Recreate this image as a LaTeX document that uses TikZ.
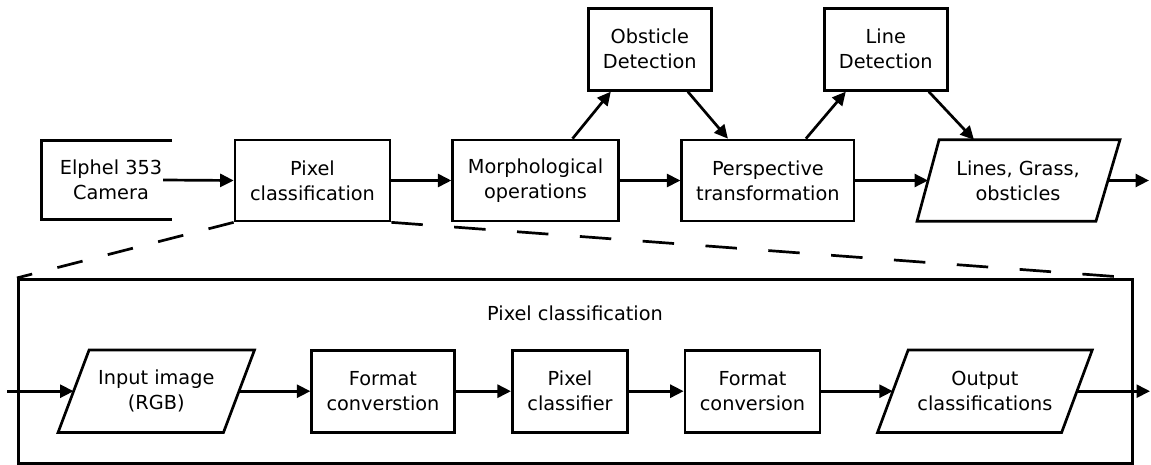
\documentclass[tikz,border=0pt]{standalone}
\usepackage{fontspec}
\setmainfont{DejaVu Sans}
\usetikzlibrary{arrows.meta,calc}
\begin{document}
\begin{tikzpicture}[x=1pt,y=-1pt,
  lbl/.style={inner sep=0pt, align=center, font=\fontsize{19.3}{25}\selectfont},
  box/.style={lbl, draw, line width=2.7pt},
  pbox/.style={lbl},
  ln/.style={line width=2.7pt},
  arr/.style={line width=2.7pt, -{Triangle[length=13.5pt,width=13pt]}}]
\useasboundingbox (0,0) rectangle (1151,465);
% top row
\node[lbl, minimum width=104pt, minimum height=78pt] (cam) at (111,180) {Elphel 353\\Camera};
\node[box, minimum width=155pt, minimum height=81pt] (pc) at (312.5,180.5) {Pixel\\classification};
\node[box, minimum width=165.6pt, minimum height=81pt] (morph) at (535.5,180.5) {Morphological\\operations};
\node[box, minimum width=172.3pt, minimum height=81pt] (persp) at (767.9,180.5) {Perspective\\transformation};
\node[pbox, minimum width=179.5pt, minimum height=81pt] (lines) at (1018,180.5) {Lines, Grass,\\obsticles};
\node[box, minimum width=123pt, minimum height=82pt] (obst) at (649.8,49.3) {Obsticle\\Detection};
\node[box, minimum width=123pt, minimum height=82pt] (ld) at (885.8,49.3) {Line\\Detection};
\coordinate (outtop) at (1149,180.5);
% camera open box
\draw[ln] ($(cam.north east)+(9,0)$) -- ($(cam.north west)+(-17,0)$) -- ($(cam.south west)+(-17,0)$) -- ($(cam.south east)+(9,0)$);
% lines parallelogram
\draw[ln] ($(lines.north west)+(11,0)$) -- ($(lines.north east)+(12,0)$) -- ($(lines.south east)+(-12,0)$) -- ($(lines.south west)+(-11,0)$) -- cycle;
% top arrows
\draw[arr] (cam.east) -- (pc.west);
\draw[arr] (pc.east) -- (morph.west);
\draw[arr] (morph.east) -- (persp.west);
\draw[arr] (persp.east) -- (lines.west);
\draw[arr] (lines.east) -- (outtop);
\draw[arr] ($(morph.north)+(37,0)$) -- ($(obst.south)+(-39,0)$);
\draw[arr] ($(obst.south)+(38,0)$) -- ($(persp.north)+(-40,0)$);
\draw[arr] ($(persp.north)+(38,0)$) -- ($(ld.south)+(-40,0)$);
\draw[arr] ($(ld.south)+(43,0)$) -- ($(lines.north)+(-44,0)$);
% big box
\node[box, minimum width=1114.4pt, minimum height=184pt] (pcbox) at (575.5,371.3) {};
\node[lbl] (pctitle) at (575,313) {Pixel classification};
\draw[ln, dash pattern=on 26pt off 26pt] (pc.south west) -- (pcbox.north west);
\draw[ln, dash pattern=on 31.5pt off 31.5pt] (pc.south east) -- (pcbox.north east);
% bottom row
\node[pbox, minimum width=165pt, minimum height=82pt] (inp) at (156.3,391.2) {Input image\\(RGB)};
\node[box, minimum width=142.6pt, minimum height=82pt] (fc1) at (383,391.2) {Format\\converstion};
\node[box, minimum width=115.4pt, minimum height=82pt] (pcl) at (570,391.2) {Pixel\\classifier};
\node[box, minimum width=135pt, minimum height=82pt] (fc2) at (752.5,391.2) {Format\\conversion};
\node[pbox, minimum width=183.7pt, minimum height=82pt] (out) at (984.9,391.2) {Output\\classifications};
\coordinate (inl) at (7,391.2);
\coordinate (outr) at (1150,391.2);
\draw[ln] ($(inp.north west)+(15.5,0)$) -- ($(inp.north east)+(15.5,0)$) -- ($(inp.south east)+(-15.5,0)$) -- ($(inp.south west)+(-15.5,0)$) -- cycle;
\draw[ln] ($(out.north west)+(15.3,0)$) -- ($(out.north east)+(15.3,0)$) -- ($(out.south east)+(-15.3,0)$) -- ($(out.south west)+(-15.3,0)$) -- cycle;
\draw[arr] (inl) -- (inp.west);
\draw[arr] (inp.east) -- (fc1.west);
\draw[arr] (fc1.east) -- (pcl.west);
\draw[arr] (pcl.east) -- (fc2.west);
\draw[arr] (fc2.east) -- (out.west);
\draw[arr] (out.east) -- (outr);
\end{tikzpicture}
\end{document}
